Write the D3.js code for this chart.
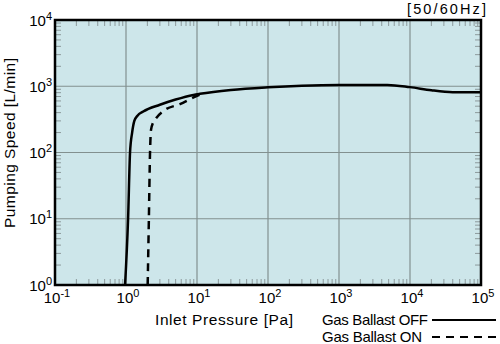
<!DOCTYPE html>
<html>
<head>
<meta charset="utf-8">
<script src="https://cdn.jsdelivr.net/npm/d3@7"></script>
<style>
  body { margin: 0; background: #fff; }
  text { font-family: "Liberation Sans", Arial, sans-serif; fill: #000; }
</style>
</head>
<body>
<div id="container"></div>
<script>
// data: inlet pressure [Pa] vs pumping speed [L/min]
var offPressure = [0.97, 1.07, 1.14, 1.22, 1.31, 1.45, 1.75, 3.0, 5.0, 8.9, 11, 30, 100, 300, 1000, 4800, 10000, 20000, 40000, 100000];
var offSpeed    = [1,    10,   100,  200,  300,  360,  415,  525, 630, 740, 770, 880, 965, 1020, 1047, 1048, 970, 870, 815, 810];
var onPressure  = [2.02, 2.10, 2.18, 2.25, 2.4, 2.6, 3.5, 5.75, 9.3, 12];
var onSpeed     = [1,    10,   100,  220,  280, 320, 437, 537,  690, 775];
var xTickExp = [-1, 0, 1, 2, 3, 4, 5];
var yTickExp = [0, 1, 2, 3, 4];

// 1. margins
var margin = {top: 20, right: 19, bottom: 59, left: 55},
    width = 500 - margin.left - margin.right,
    height = 344 - margin.top - margin.bottom;

var svg = d3.select("#container")
  .append("svg")
    .attr("width", 500)
    .attr("height", 344);

var g = svg.append("g")
    .attr("transform", "translate(" + margin.left + "," + margin.top + ")");

// 2. scales
var x = d3.scaleLog().domain([0.1, 1e5]).range([0, width]);
var y = d3.scaleLog().domain([1, 1e4]).range([height, 0]);

// background
g.append("rect")
    .attr("width", width)
    .attr("height", height)
    .attr("fill", "#cde6ea");

// minor ticks (2..9 in each decade), inward on all four sides
var xMinor = [], yMinor = [];
xTickExp.slice(0, -1).forEach(function(e) {
    for (var k = 2; k <= 9; k++) xMinor.push(k * Math.pow(10, e));
});
yTickExp.slice(0, -1).forEach(function(e) {
    for (var k = 2; k <= 9; k++) yMinor.push(k * Math.pow(10, e));
});
var tickLen = 6, tickColor = "#8d9a9c";

g.selectAll(".xminb").data(xMinor).enter().append("line")
    .attr("x1", function(d) { return x(d); }).attr("x2", function(d) { return x(d); })
    .attr("y1", height).attr("y2", height - tickLen)
    .attr("stroke", tickColor).attr("stroke-width", 1);
g.selectAll(".xmint").data(xMinor).enter().append("line")
    .attr("x1", function(d) { return x(d); }).attr("x2", function(d) { return x(d); })
    .attr("y1", 0).attr("y2", tickLen)
    .attr("stroke", tickColor).attr("stroke-width", 1);
g.selectAll(".yminl").data(yMinor).enter().append("line")
    .attr("y1", function(d) { return y(d); }).attr("y2", function(d) { return y(d); })
    .attr("x1", 0).attr("x2", tickLen)
    .attr("stroke", tickColor).attr("stroke-width", 1);
g.selectAll(".yminr").data(yMinor).enter().append("line")
    .attr("y1", function(d) { return y(d); }).attr("y2", function(d) { return y(d); })
    .attr("x1", width).attr("x2", width - tickLen)
    .attr("stroke", tickColor).attr("stroke-width", 1);

// major grid
g.selectAll(".xgrid").data(xTickExp.slice(1, -1)).enter().append("line")
    .attr("x1", function(d) { return x(Math.pow(10, d)); })
    .attr("x2", function(d) { return x(Math.pow(10, d)); })
    .attr("y1", 0).attr("y2", height)
    .attr("stroke", "#82908f").attr("stroke-width", 1.2);
g.selectAll(".ygrid").data(yTickExp.slice(1, -1)).enter().append("line")
    .attr("y1", function(d) { return y(Math.pow(10, d)); })
    .attr("y2", function(d) { return y(Math.pow(10, d)); })
    .attr("x1", 0).attr("x2", width)
    .attr("stroke", "#82908f").attr("stroke-width", 1.2);

// 3. curves
var line = d3.line()
    .x(function(d) { return x(d[0]); })
    .y(function(d) { return y(d[1]); })
    .curve(d3.curveMonotoneX);

g.append("path")
    .datum(d3.zip(offPressure, offSpeed))
    .attr("d", line)
    .attr("fill", "none")
    .attr("stroke", "#000")
    .attr("stroke-width", 2.5);

g.append("path")
    .datum(d3.zip(onPressure, onSpeed))
    .attr("d", line)
    .attr("fill", "none")
    .attr("stroke", "#000")
    .attr("stroke-width", 2.5)
    .attr("stroke-dasharray", "8,6");

// frame
g.append("rect")
    .attr("width", width)
    .attr("height", height)
    .attr("fill", "none")
    .attr("stroke", "#000")
    .attr("stroke-width", 2.5);

// 4. tick labels with superscript exponents
function powLabel(sel) {
    sel.append("tspan").text("10");
    sel.append("tspan")
        .attr("dy", -6)
        .attr("font-size", 11)
        .text(function(d) { return d; });
}

g.selectAll(".xlab").data(xTickExp).enter().append("text")
    .attr("x", function(d) { return x(Math.pow(10, d)) + 2; })
    .attr("y", height + 18)
    .attr("text-anchor", "middle")
    .attr("font-size", 15)
    .call(powLabel);

g.selectAll(".ylab").data(yTickExp).enter().append("text")
    .attr("x", -3)
    .attr("y", function(d) { return y(Math.pow(10, d)) + 5.5; })
    .attr("text-anchor", "end")
    .attr("font-size", 15)
    .call(powLabel);

// axis titles
svg.append("text")
    .attr("x", 155)
    .attr("y", 325)
    .attr("font-size", 15.5)
    .attr("textLength", 138)
    .attr("lengthAdjust", "spacing")
    .text("Inlet Pressure [Pa]");

svg.append("text")
    .attr("transform", "translate(15,228) rotate(-90)")
    .attr("font-size", 15.5)
    .attr("textLength", 170)
    .attr("lengthAdjust", "spacing")
    .text("Pumping Speed [L/min]");

svg.append("text")
    .attr("x", 407)
    .attr("y", 14)
    .attr("font-size", 14.5)
    .attr("textLength", 79)
    .attr("lengthAdjust", "spacing")
    .text("[50/60Hz]");

// legend
var legendItems = ["Gas Ballast OFF", "Gas Ballast ON"];
var legendWidth = [106, 100];
var legendDash = [null, "8,6"];
legendItems.forEach(function(name, i) {
    var ly = 320 + i * 17;
    svg.append("text")
        .attr("x", 322)
        .attr("y", ly + 5)
        .attr("font-size", 15)
        .attr("textLength", legendWidth[i])
        .attr("lengthAdjust", "spacing")
        .text(name);
    svg.append("line")
        .attr("x1", 432).attr("x2", 496)
        .attr("y1", ly).attr("y2", ly)
        .attr("stroke", "#000")
        .attr("stroke-width", 2)
        .attr("stroke-dasharray", legendDash[i]);
});
</script>
</body>
</html>
